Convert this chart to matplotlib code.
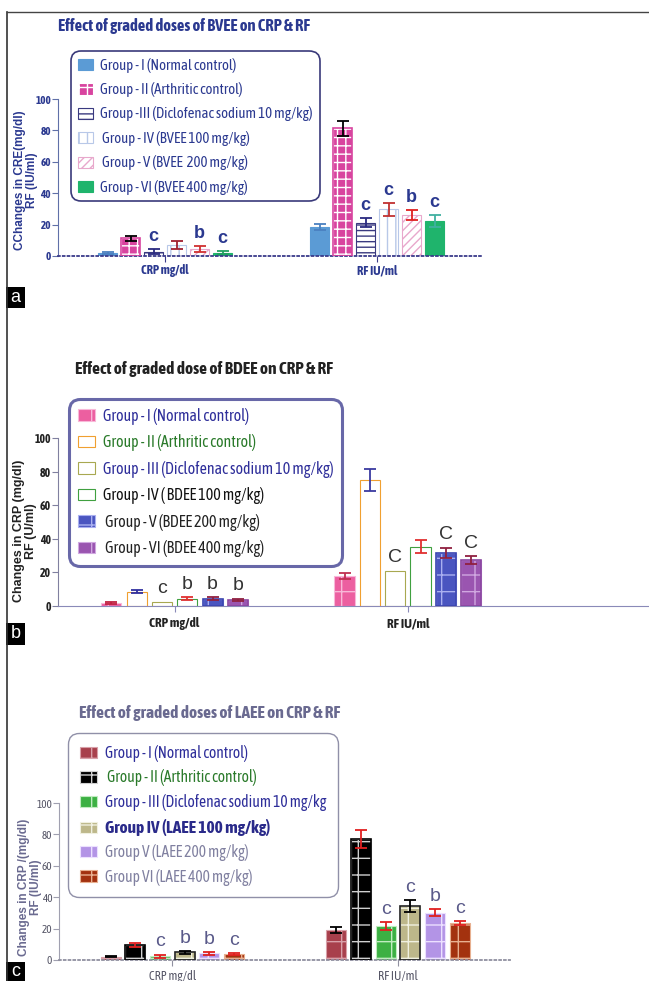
import numpy as np
import matplotlib.pyplot as plt
from matplotlib.lines import Line2D
from matplotlib.patches import Rectangle

NARROW = ["Asap Condensed", "Liberation Sans", "DejaVu Sans"]
ARIAL = ["Liberation Sans", "DejaVu Sans"]
plt.rcParams["font.family"] = NARROW
plt.rcParams["hatch.linewidth"] = 1.0

W, H = 649, 981

categories = ["CRP mg/dl", "RF IU/ml"]

# ---- panel a : BVEE ----
a_groups = ["Group - I (Normal control)", "Group - II (Arthritic control)",
            "Group -III (Diclofenac sodium 10 mg/kg)", " Group - IV (BVEE 100 mg/kg)",
            " Group - V (BVEE  200 mg/kg)", "Group - VI (BVEE 400 mg/kg)"]
a_crp = [2.0, 11.2, 2.7, 7.0, 4.4, 2.1]
a_crp_err = [0.5, 1.5, 1.5, 2.5, 2.0, 1.0]
a_rf = [18.3, 81.3, 21.2, 29.7, 26.1, 22.3]
a_rf_err = [2.0, 5.0, 2.7, 4.0, 3.0, 3.8]
a_crp_sig = ["", "", "c", "", "b", "c"]
a_rf_sig = ["", "", "c", "c", "b", "c"]

# ---- panel b : BDEE ----
b_groups = ["Group - I (Normal control)", "Group - II (Arthritic control)",
            "Group - III (Diclofenac sodium 10 mg/kg)", "Group - IV ( BDEE 100 mg/kg)",
            " Group - V (BDEE 200 mg/kg)", " Group - VI (BDEE 400 mg/kg)"]
b_crp = [1.6, 8.5, 2.6, 4.4, 4.3, 3.6]
b_crp_err = [0.5, 1.0, 0.0, 0.8, 1.0, 0.8]
b_rf = [17.9, 75.1, 21.1, 35.2, 31.8, 27.4]
b_rf_err = [1.8, 6.5, 0.0, 3.8, 3.0, 2.5]
b_crp_sig = ["", "", "c", "b", "b", "b"]
b_rf_sig = ["", "", "C", "", "C", "C"]

# ---- panel c : LAEE ----
c_groups = ["Group - I (Normal control)", " Group - II (Arthritic control)",
            "Group - III (Diclofenac sodium 10 mg/kg", "Group IV (LAEE 100 mg/kg)",
            "Group V (LAEE 200 mg/kg)", "Group VI (LAEE 400 mg/kg)"]
c_crp = [2.1, 9.5, 2.5, 4.9, 4.2, 3.8]
c_crp_err = [0.5, 1.5, 1.0, 1.0, 1.0, 0.8]
c_rf = [19.1, 77.3, 21.6, 34.3, 30.1, 23.7]
c_rf_err = [2.0, 5.8, 2.7, 3.8, 2.2, 1.2]
c_crp_sig = ["", "", "c", "b", "b", "c"]
c_rf_sig = ["", "", "c", "c", "b", "c"]

fig = plt.figure(figsize=(W / 100, H / 100), dpi=100)


def box(left, right, top, bottom):
    return [left / W, 1 - bottom / H, (right - left) / W, (bottom - top) / H]


def panel(rect, xlim, step, width, groups, crp, crp_err, rf, rf_err, crp_sig, rf_sig,
          faces, edges, hatches, outlines, err_crp, err_rf, sig_kw):
    ax = fig.add_axes(rect)
    x0 = np.arange(len(categories))
    handles = []
    for i in range(6):
        x = x0 + (i - 2.5) * step
        vals = [crp[i], rf[i]]
        errs = [crp_err[i], rf_err[i]]
        h = ax.bar(x, vals, width, color=faces[i], edgecolor=edges[i],
                   hatch=hatches[i], linewidth=0.8, label=groups[i], zorder=2)
        handles.append(h)
        if outlines[i]:
            ax.bar(x, vals, width, fill=False, edgecolor=outlines[i], linewidth=1.2, zorder=3)
        for j, ec in enumerate([err_crp[i], err_rf[i]]):
            if errs[j] > 0:
                ax.errorbar(x[j], vals[j], yerr=errs[j], fmt="none", ecolor=ec,
                            elinewidth=1.3, capsize=4.5, capthick=1.3, zorder=4)
        for j, s in enumerate([crp_sig[i], rf_sig[i]]):
            if s:
                ax.annotate(s, (x[j], vals[j] + errs[j]), xytext=(0, 3),
                            textcoords="offset points", ha="center", va="bottom", **sig_kw)
    ax.set_xlim(*xlim)
    ax.set_ylim(0, 100)
    ax.set_yticks([0, 20, 40, 60, 80, 100])
    ax.set_xticks(x0)
    ax.set_xticklabels(categories)
    ax.spines["top"].set_visible(False)
    ax.spines["right"].set_visible(False)
    ax.set_facecolor("none")
    return ax, handles


def style_legend(leg, edge, lw, colors):
    leg.get_frame().set_boxstyle("round,pad=0,rounding_size=0.7")
    leg.get_frame().set_edgecolor(edge)
    leg.get_frame().set_linewidth(lw)
    for t, c in zip(leg.get_texts(), colors):
        t.set_color(c)
    leg.set_zorder(1)


# ================= panel a =================
navy = "#2b3990"
ax_a, h_a = panel(box(58, 483, 99, 256), (-0.505, 1.5), 0.1085, 0.09,
                  a_groups, a_crp, a_crp_err, a_rf, a_rf_err, a_crp_sig, a_rf_sig,
                  faces=["#5b9bd5", "#d8449f", "white", "white", "white", "#1fb46c"],
                  edges=["#5b9bd5", "white", "#3a3a80", "#b8c8e8", "#e8a8cc", "#1fb46c"],
                  hatches=[None, "++", "---", "||", "////", None],
                  outlines=[None, "#d8449f", None, None, None, None],
                  err_crp=["#4a80c0", "black", "#2a2a80", "#a02030", "#d03030", "#20a060"],
                  err_rf=["#4a80c0", "black", "#2a2a80", "#c03030", "#e02020", "#40b0a0"],
                  sig_kw=dict(fontsize=13, fontweight="bold", color=navy, family=ARIAL))
ax_a.spines["left"].set_color("#6070a8")
ax_a.spines["bottom"].set_color("#3a3a8a")
ax_a.spines["bottom"].set_linestyle(":")
ax_a.spines["bottom"].set_linewidth(1.3)
ax_a.tick_params(axis="y", labelsize=8, labelcolor=navy, color="#6070a8", length=4, pad=1)
ax_a.tick_params(axis="x", labelsize=9, labelcolor=navy, color="#3a3a8a", length=4, pad=2)
for t in ax_a.get_xticklabels() + ax_a.get_yticklabels():
    t.set_fontweight("bold")
leg = ax_a.legend(handles=h_a, loc="upper left", bbox_to_anchor=(71 / W, 1 - 51 / H),
                  bbox_transform=fig.transFigure, fontsize=10.6, handlelength=1.05,
                  handleheight=0.8, handletextpad=0.5, labelspacing=0.64, borderpad=0.45,
                  borderaxespad=0, fancybox=True, framealpha=1)
style_legend(leg, "#3a3a7a", 1.2, [navy] * 6)
fig.text(184 / W, 1 - 26 / H, "Effect of graded doses of BVEE on CRP & RF", ha="center",
         va="center", fontsize=12, fontweight="bold", color=navy)
fig.text(26 / W, 1 - 180 / H, "CChanges in CRE(mg/dl)\nRF (IU/ml)", rotation=90, ha="center",
         va="center", multialignment="center", fontsize=8.5, fontweight="bold", color=navy,
         linespacing=1.1, family=ARIAL)

# ================= panel b =================
ax_b, h_b = panel(box(58, 649, 438, 606), (-0.5, 2.034), 0.1086, 0.086,
                  b_groups, b_crp, b_crp_err, b_rf, b_rf_err, b_crp_sig, b_rf_sig,
                  faces=["#ec5fa0", "white", "white", "white", "#4a55c0", "#9a55b0"],
                  edges=["#f8b8d8", "#f0a030", "#a8a850", "#40a040", "#aab0f0", "#d0a8e0"],
                  hatches=["+", None, None, None, "+", "+"],
                  outlines=[None, None, None, None, "#3a45b0", "#8a45a0"],
                  err_crp=["#c02040", "#3030a0", "white", "#e03030", "#902040", "#902040"],
                  err_rf=["#c03050", "#3a3aa0", "white", "#e03030", "#902040", "#902040"],
                  sig_kw=dict(fontsize=14, color="#333333", family=ARIAL))
ax_b.spines["left"].set_color("#8080a0")
ax_b.spines["bottom"].set_color("#8a8ab8")
ax_b.tick_params(axis="y", labelsize=8.5, labelcolor="#222222", color="#8080a0", length=4, pad=1)
ax_b.tick_params(axis="x", labelsize=9.5, labelcolor="#222222", color="#8a8ab8", length=4, pad=4)
for t in ax_b.get_xticklabels() + ax_b.get_yticklabels():
    t.set_fontweight("bold")
leg = ax_b.legend(handles=h_b, loc="upper left", bbox_to_anchor=(69 / W, 1 - 399 / H),
                  bbox_transform=fig.transFigure, fontsize=11.4, handlelength=1.1,
                  handleheight=0.75, handletextpad=0.5, labelspacing=0.6, borderpad=0.55,
                  borderaxespad=0, fancybox=True, framealpha=1)
style_legend(leg, "#6868a8", 2.2,
             ["#2e2e9a", "#2a7a2a", "#2e2e9a", "#111111", "#222222", "#222222"])
fig.text(204 / W, 1 - 369 / H, "Effect of graded dose of BDEE on CRP & RF", ha="center",
         va="center", fontsize=12.5, fontweight="bold", color="#222222")
fig.text(25 / W, 1 - 531 / H, "Changes in CRP (mg/dl)\nRF (U/ml)", rotation=90, ha="center",
         va="center", multialignment="center", fontsize=9, fontweight="bold", color="#222222",
         linespacing=1.1, family=ARIAL)

# ================= panel c =================
grey = "#6a6a90"
ax_c, h_c = panel(box(59, 510, 803, 960), (-0.503, 1.497), 0.1095, 0.0887,
                  c_groups, c_crp, c_crp_err, c_rf, c_rf_err, c_crp_sig, c_rf_sig,
                  faces=["#a8404c", "black", "#3cb043", "#bdb78a", "#b394e6", "#a3320f"],
                  edges=["#d8a0a8", "#d0d0d0", "#c0ecc0", "#f0f0e0", "#ece0ff", "#e8b090"],
                  hatches=["+", "+", "+", "+", "+", "+"],
                  outlines=[None, "black", None, "#222222", None, None],
                  err_crp=["black", "#e02020", "#e02020", "black", "#e02020", "#e02020"],
                  err_rf=["black", "#e02020", "#e02020", "black", "#e02020", "#e02020"],
                  sig_kw=dict(fontsize=14, color="#5a5a8a", family=ARIAL))
ax_c.spines["left"].set_color("#a0a0b0")
ax_c.spines["bottom"].set_color("#9090a0")
ax_c.spines["bottom"].set_linestyle(":")
ax_c.spines["bottom"].set_linewidth(1.3)
ax_c.tick_params(axis="y", labelsize=8, labelcolor="#555566", color="#a0a0b0", length=4, pad=1)
ax_c.tick_params(axis="x", labelsize=9, labelcolor="#555566", color="#9090a0", length=4, pad=3)
leg = ax_c.legend(handles=h_c, loc="upper left", bbox_to_anchor=(68 / W, 1 - 733 / H),
                  bbox_transform=fig.transFigure, fontsize=11.2, handlelength=1.1,
                  handleheight=0.75, handletextpad=0.5, labelspacing=0.5, borderpad=0.75,
                  borderaxespad=0, fancybox=True, framealpha=1)
style_legend(leg, "#9090a8", 1.0,
             ["#2e2e9a", "#2a7a2a", "#2e2e9a", "#2a2a8a", "#8080a0", "#8080a0"])
leg.get_texts()[3].set_fontweight("bold")
leg.get_texts()[3].set_fontsize(12.5)
fig.text(210 / W, 1 - 713 / H, "Effect of graded doses of LAEE on CRP & RF", ha="center",
         va="center", fontsize=12.5, fontweight="bold", color=grey)
fig.text(30 / W, 1 - 887 / H, "Changes in CRP /(mg/dl)\nRF (IU/ml)", rotation=90, ha="center",
         va="center", multialignment="center", fontsize=8.5, fontweight="bold", color=grey,
         linespacing=1.1, family=ARIAL)

# frame lines and panel letters
fig.add_artist(Line2D([7 / W, 7 / W], [0, 1 - 12 / H], color="#333333", lw=1.2,
                      transform=fig.transFigure))
fig.add_artist(Line2D([7 / W, 1], [1 - 12 / H, 1 - 12 / H], color="#444444", lw=1.0,
                      transform=fig.transFigure))
for letter, (top, bot) in zip(["a", "b", "c"], [(287, 308), (623, 645), (962, 981)]):
    fig.add_artist(Rectangle((6 / W, 1 - bot / H), 19 / W, (bot - top) / H,
                             facecolor="black", edgecolor="none", transform=fig.transFigure))
    fig.text(15.5 / W, 1 - (top + bot) / 2 / H, letter, color="white", fontsize=13,
             ha="center", va="center", family=ARIAL)

fig.savefig("out.png", dpi=100)
